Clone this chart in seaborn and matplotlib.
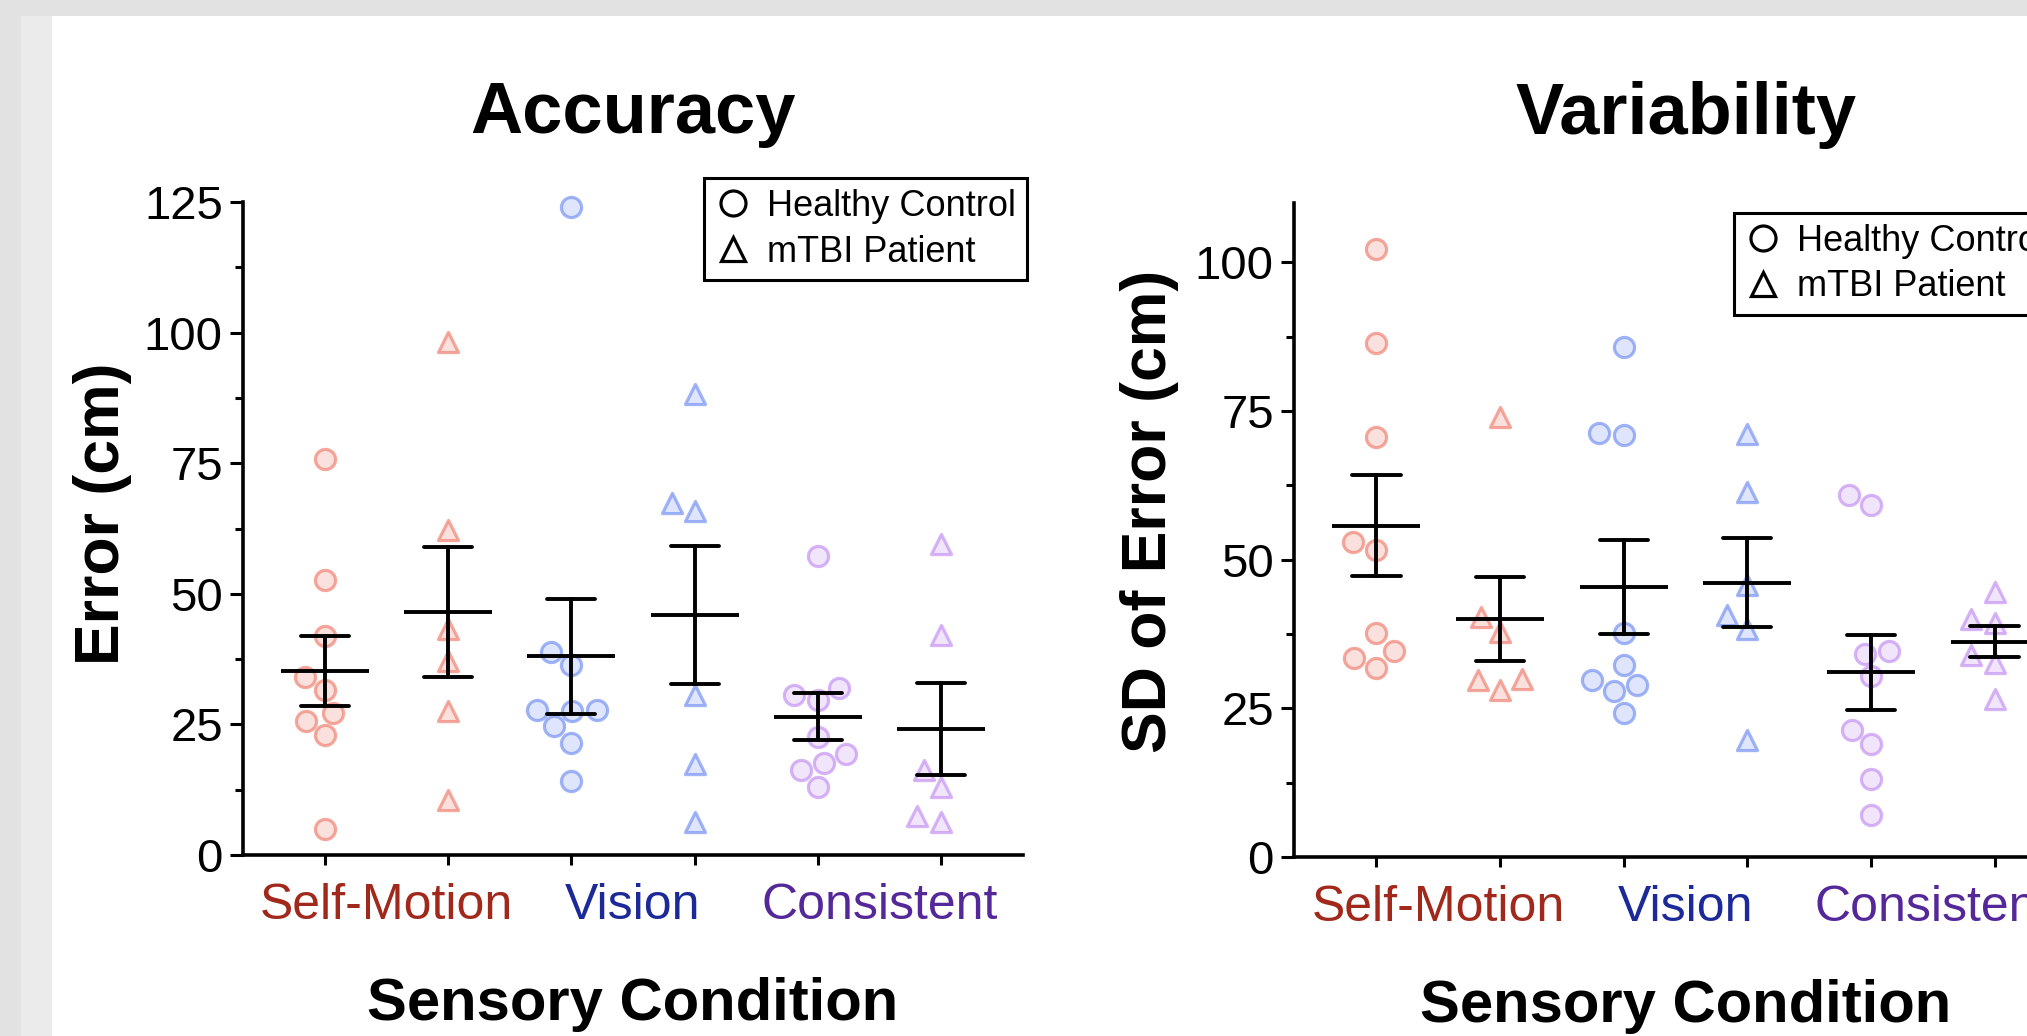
import numpy as np
import pandas as pd
import matplotlib
matplotlib.use("Agg")
import matplotlib.pyplot as plt
import seaborn as sns
from matplotlib.patches import Rectangle
from matplotlib.lines import Line2D
from matplotlib.ticker import MultipleLocator

# ---------------- data ----------------
conditions = ["Self-Motion", "Vision", "Consistent"]
groups = ["Healthy Control", "mTBI Patient"]

acc_sm_hc = [75.8, 52.6, 41.9, 34.1, 31.6, 27.2, 25.7, 23.0, 5.0]
acc_sm_tbi = [98.2, 62.3, 43.2, 37.1, 27.6, 10.5]
acc_v_hc = [124.1, 38.9, 36.4, 27.7, 27.7, 27.6, 24.6, 21.4, 14.1]
acc_v_tbi = [88.2, 67.4, 65.8, 30.7, 17.5, 6.3]
acc_c_hc = [57.3, 32.0, 30.7, 29.7, 22.5, 19.4, 17.7, 16.2, 13.0]
acc_c_tbi = [59.6, 42.1, 16.2, 13.0, 7.5, 6.3]

var_sm_hc = [102.2, 86.4, 70.7, 52.9, 51.6, 37.6, 34.6, 33.4, 31.8]
var_sm_tbi = [74.0, 40.4, 37.9, 29.9, 29.8, 28.1]
var_v_hc = [85.7, 71.3, 71.0, 37.6, 32.3, 29.8, 29.0, 27.9, 24.3]
var_v_tbi = [71.2, 61.4, 45.7, 40.7, 38.4, 19.6]
var_c_hc = [60.9, 59.2, 34.6, 34.2, 30.4, 21.4, 19.0, 13.1, 7.0]
var_c_tbi = [44.5, 40.1, 39.3, 34.0, 32.7, 26.6]

titles = ["Accuracy", "Variability"]
ylabels = ["Error (cm)", "SD of Error (cm)"]
xlabel = "Sensory Condition"

point_colors = {"Self-Motion": "#f07a6a", "Vision": "#6f8cf2", "Consistent": "#c28cf2"}
label_colors = ["#a0291c", "#1c2a99", "#55289a"]


def build_df(sm_hc, sm_tbi, v_hc, v_tbi, c_hc, c_tbi):
    rows = []
    for cond, hc, tbi in zip(conditions, [sm_hc, v_hc, c_hc], [sm_tbi, v_tbi, c_tbi]):
        for v in hc:
            rows.append((cond, groups[0], f"{cond}|{groups[0]}", v))
        for v in tbi:
            rows.append((cond, groups[1], f"{cond}|{groups[1]}", v))
    return pd.DataFrame(rows, columns=["cond", "group", "pos", "value"])


positions = [f"{c}|{g}" for c in conditions for g in groups]

df_acc = build_df(acc_sm_hc, acc_sm_tbi, acc_v_hc, acc_v_tbi, acc_c_hc, acc_c_tbi)
df_var = build_df(var_sm_hc, var_sm_tbi, var_v_hc, var_v_tbi, var_c_hc, var_c_tbi)

# ---------------- style ----------------
sns.set_style("ticks")
plt.rcParams["font.family"] = ["Liberation Sans", "DejaVu Sans"]
for key in ["text.color", "axes.labelcolor", "xtick.color", "ytick.color", "axes.edgecolor"]:
    plt.rcParams[key] = "black"

W, H = 2027, 1036
fig = plt.figure(figsize=(W / 100, H / 100), dpi=100, facecolor="#e2e2e2")
fig.add_artist(Rectangle((21 / W, 0), 31 / W, (H - 16) / H, transform=fig.transFigure,
                         facecolor="#ebebeb", edgecolor="none", zorder=-20))
fig.add_artist(Rectangle((52 / W, 0), 1, (H - 16) / H, transform=fig.transFigure,
                         facecolor="white", edgecolor="none", zorder=-10))

ax1 = fig.add_axes([243 / W, (H - 855) / H, 780 / W, 653 / H])
ax2 = fig.add_axes([1294 / W, (H - 857) / H, 783 / W, 654 / H])

panels = [
    (ax1, df_acc, 125, (0.591, 1.037), -0.1795, 0.522),
    (ax2, df_var, 110, (0.562, 0.985), -0.184, 0.528),
]

for i, (ax, df, ytop, leg_anchor, ylab_x, ylab_y) in enumerate(panels):
    ax.set_facecolor("white")
    for grp, mk in zip(groups, ["o", "^"]):
        sns.swarmplot(data=df[df["group"] == grp], x="pos", y="value", order=positions,
                      hue="cond", palette=point_colors, marker=mk, size=14.5,
                      linewidth=2.3, legend=False, ax=ax, zorder=2)
    for coll in ax.collections:
        fc = coll.get_facecolor()
        if len(fc) == 0:
            continue
        rgb = tuple(fc[0][:3])
        coll.set_facecolor((*rgb, 0.22))
        coll.set_edgecolor((*rgb, 0.65))
        coll.set_clip_on(False)

    sns.pointplot(data=df, x="pos", y="value", order=positions, errorbar="se",
                  capsize=0.39, color="black", linestyle="none", marker="_",
                  markersize=63, markeredgewidth=2.8, err_kws={"linewidth": 2.8},
                  ax=ax)
    for ln in ax.lines:
        ln.set_zorder(5)

    ax.set_xlim(-0.667, 5.667)
    ax.set_ylim(0, ytop)
    ax.set_xticks(range(6), [""] * 6)
    ax.set_xticks([0.5, 2.5, 4.5], conditions, minor=True)
    for lbl, c in zip(ax.get_xticklabels(minor=True), label_colors):
        lbl.set_color(c)
    ax.yaxis.set_major_locator(MultipleLocator(25))
    ax.yaxis.set_minor_locator(MultipleLocator(12.5))

    ax.tick_params(axis="x", which="major", length=7, width=2.2, direction="out",
                   color="black")
    ax.tick_params(axis="x", which="minor", length=0, pad=20, labelsize=36)
    ax.tick_params(axis="y", which="major", length=9.5, width=2.2, pad=5,
                   labelsize=34, direction="out", color="black", labelcolor="black")
    ax.tick_params(axis="y", which="minor", length=6, width=2.2, direction="out",
                   color="black")

    for side in ["top", "right"]:
        ax.spines[side].set_visible(False)
    for side in ["left", "bottom"]:
        ax.spines[side].set_linewidth(2.6)
        ax.spines[side].set_color("black")

    ax.set_xlabel("")
    ax.set_ylabel(ylabels[i], fontsize=45, fontweight="bold", va="center", color="black")
    ax.yaxis.set_label_coords(ylab_x, ylab_y)
    ax.text(0.5, 1.1057, titles[i], transform=ax.transAxes, ha="center", va="baseline",
            fontsize=52, fontweight="bold", color="black")
    ax.text(0.5, -0.253, xlabel, transform=ax.transAxes, ha="center", va="baseline",
            fontsize=43, fontweight="bold", color="black")

    handles = [
        Line2D([], [], linestyle="none", marker="o", markersize=18, markerfacecolor="none",
               markeredgecolor="black", markeredgewidth=2.3),
        Line2D([], [], linestyle="none", marker="^", markersize=17, markerfacecolor="none",
               markeredgecolor="black", markeredgewidth=2.3),
    ]
    leg = ax.legend(handles, groups, loc="upper left", bbox_to_anchor=leg_anchor,
                    frameon=True, fancybox=False, fontsize=26, borderpad=0.3,
                    handlelength=1.0, handletextpad=0.45, labelspacing=0.3,
                    borderaxespad=0)
    for t in leg.get_texts():
        t.set_color("black")
    leg.get_frame().set_edgecolor("black")
    leg.get_frame().set_linewidth(2.2)
    leg.get_frame().set_alpha(1)
    leg.set_zorder(10)

fig.savefig("out.png", dpi=100, facecolor=fig.get_facecolor())
